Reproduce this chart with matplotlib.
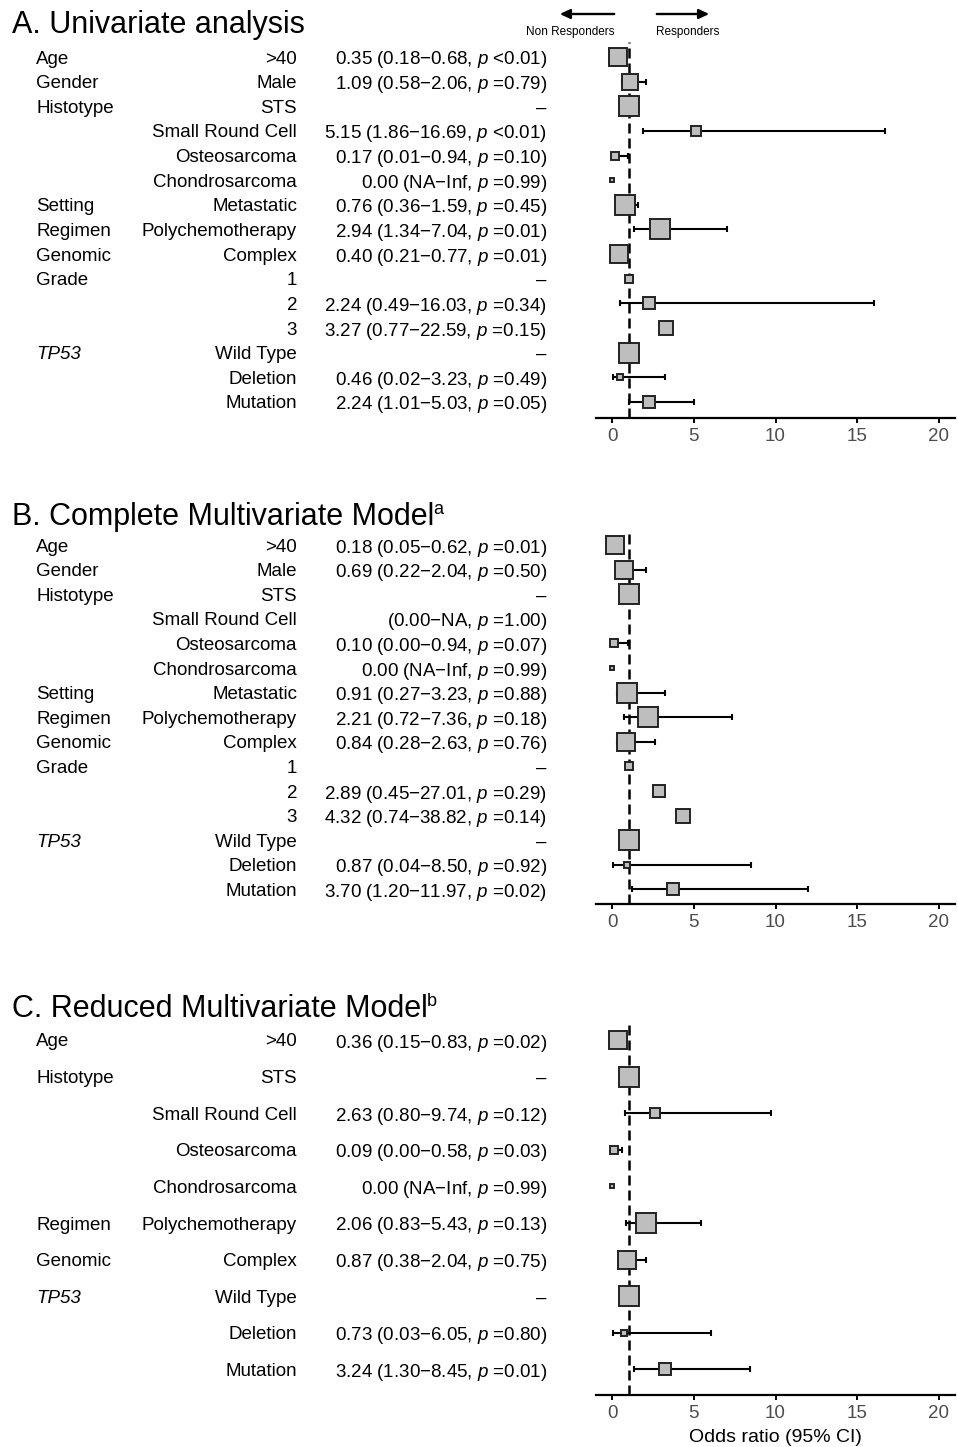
import numpy as np
import matplotlib
matplotlib.use("Agg")
import matplotlib.pyplot as plt
from matplotlib.transforms import blended_transform_factory

plt.rcParams['font.family'] = ['Liberation Sans', 'DejaVu Sans']
plt.rcParams['mathtext.fontset'] = 'custom'
plt.rcParams['mathtext.rm'] = 'Liberation Sans'
plt.rcParams['mathtext.it'] = 'Liberation Sans:italic'
plt.rcParams['mathtext.bf'] = 'Liberation Sans:bold'

NA = np.nan
INF = np.inf

# ---------------- Panel A : Univariate ----------------
a_vars = ["Age", "Gender", "Histotype", "", "", "", "Setting", "Regimen", "Genomic",
          "Grade", "", "", "TP53", "", ""]
a_levels = [">40", "Male", "STS", "Small Round Cell", "Osteosarcoma", "Chondrosarcoma",
            "Metastatic", "Polychemotherapy", "Complex", "1", "2", "3",
            "Wild Type", "Deletion", "Mutation"]
a_text = ["0.35 (0.18\u22120.68, $p$ <0.01)", "1.09 (0.58\u22122.06, $p$ =0.79)", "\u2013",
          "5.15 (1.86\u221216.69, $p$ <0.01)", "0.17 (0.01\u22120.94, $p$ =0.10)",
          "0.00 (NA\u2212Inf, $p$ =0.99)", "0.76 (0.36\u22121.59, $p$ =0.45)",
          "2.94 (1.34\u22127.04, $p$ =0.01)", "0.40 (0.21\u22120.77, $p$ =0.01)", "\u2013",
          "2.24 (0.49\u221216.03, $p$ =0.34)", "3.27 (0.77\u221222.59, $p$ =0.15)", "\u2013",
          "0.46 (0.02\u22123.23, $p$ =0.49)", "2.24 (1.01\u22125.03, $p$ =0.05)"]
a_or = [0.35, 1.09, 1.00, 5.15, 0.17, 0.00, 0.76, 2.94, 0.40, 1.00, 2.24, 3.27, 1.00, 0.46, 2.24]
a_lo = [0.18, 0.58, NA, 1.86, 0.01, NA, 0.36, 1.34, 0.21, NA, 0.49, 0.77, NA, 0.02, 1.01]
a_hi = [0.68, 2.06, NA, 16.69, 0.94, INF, 1.59, 7.04, 0.77, NA, 16.03, 22.59, NA, 3.23, 5.03]
a_weight = [18, 17, 21, 11, 8, 5, 20, 21, 19, 9, 13, 15, 21, 7, 12]

# ---------------- Panel B : Complete multivariate ----------------
b_vars = a_vars
b_levels = a_levels
b_text = ["0.18 (0.05\u22120.62, $p$ =0.01)", "0.69 (0.22\u22122.04, $p$ =0.50)", "\u2013",
          "(0.00\u2212NA, $p$ =1.00)", "0.10 (0.00\u22120.94, $p$ =0.07)",
          "0.00 (NA\u2212Inf, $p$ =0.99)", "0.91 (0.27\u22123.23, $p$ =0.88)",
          "2.21 (0.72\u22127.36, $p$ =0.18)", "0.84 (0.28\u22122.63, $p$ =0.76)", "\u2013",
          "2.89 (0.45\u221227.01, $p$ =0.29)", "4.32 (0.74\u221238.82, $p$ =0.14)", "\u2013",
          "0.87 (0.04\u22128.50, $p$ =0.92)", "3.70 (1.20\u221211.97, $p$ =0.02)"]
b_or = [0.18, 0.69, 1.00, NA, 0.10, 0.00, 0.91, 2.21, 0.84, 1.00, 2.89, 4.32, 1.00, 0.87, 3.70]
b_lo = [0.05, 0.22, NA, 0.00, 0.00, NA, 0.27, 0.72, 0.28, NA, 0.45, 0.74, NA, 0.04, 1.20]
b_hi = [0.62, 2.04, NA, NA, 0.94, INF, 3.23, 7.36, 2.63, NA, 27.01, 38.82, NA, 8.50, 11.97]
b_weight = [18, 18, 21, 0, 8, 5, 21, 20, 19, 9, 13, 15, 21, 6, 12]

# ---------------- Panel C : Reduced multivariate ----------------
c_vars = ["Age", "Histotype", "", "", "", "Regimen", "Genomic", "TP53", "", ""]
c_levels = [">40", "STS", "Small Round Cell", "Osteosarcoma", "Chondrosarcoma",
            "Polychemotherapy", "Complex", "Wild Type", "Deletion", "Mutation"]
c_text = ["0.36 (0.15\u22120.83, $p$ =0.02)", "\u2013", "2.63 (0.80\u22129.74, $p$ =0.12)",
          "0.09 (0.00\u22120.58, $p$ =0.03)", "0.00 (NA\u2212Inf, $p$ =0.99)",
          "2.06 (0.83\u22125.43, $p$ =0.13)", "0.87 (0.38\u22122.04, $p$ =0.75)", "\u2013",
          "0.73 (0.03\u22126.05, $p$ =0.80)", "3.24 (1.30\u22128.45, $p$ =0.01)"]
c_or = [0.36, 1.00, 2.63, 0.09, 0.00, 2.06, 0.87, 1.00, 0.73, 3.24]
c_lo = [0.15, NA, 0.80, 0.00, NA, 0.83, 0.38, NA, 0.03, 1.30]
c_hi = [0.83, NA, 9.74, 0.58, INF, 5.43, 2.04, NA, 6.05, 8.45]
c_weight = [18, 21, 11, 8, 5, 20, 19, 21, 7, 12]

xticks = [0, 5, 10, 15, 20]
XMIN, XMAX = -1.0, 21.0

W, H = 958, 1447
fig = plt.figure(figsize=(W / 100, H / 100), dpi=100)

FILL = '#BEBEBE'
EDGE = '#222222'
FS = 13.5


def fx(px):
    return px / W


def fy(py):
    return 1 - py / H


def panel(title, sup, title_base, top_px, spine_px, row0_px, step_px,
          vars_, levels, texts, ors, los, his, weights, xlabel=None):
    n = len(levels)
    ax_left, ax_right = 596, 955
    ax = fig.add_axes([fx(ax_left), fy(spine_px), fx(ax_right - ax_left),
                       (spine_px - top_px) / H])
    ax.set_xlim(XMIN, XMAX)
    ax.set_ylim((spine_px - row0_px) / step_px, -(row0_px - top_px) / step_px)
    for s in ['left', 'right', 'top']:
        ax.spines[s].set_visible(False)
    ax.spines['bottom'].set_linewidth(1.6)
    ax.set_yticks([])
    ax.set_xticks(xticks)
    ax.tick_params(axis='x', length=3.5, width=1.4, pad=3.5, labelsize=FS,
                   labelcolor='#4D4D4D', color='black')
    ax.patch.set_alpha(0)
    ax.axvline(1, color='black', lw=1.8, ls=(0, (4, 2)), zorder=1)
    ys = np.arange(n)
    for i in range(n):
        lo, hi, o = los[i], his[i], ors[i]
        if np.isfinite(lo) and np.isfinite(hi) and hi <= XMAX:
            ax.plot([lo, hi], [ys[i], ys[i]], color='black', lw=1.5, zorder=2,
                    solid_capstyle='butt')
            ax.plot([lo, hi], [ys[i], ys[i]], ls='none', marker='|', ms=5,
                    mew=1.5, color='black', zorder=2)
        if np.isfinite(o) and weights[i] > 0:
            ax.plot([o], [ys[i]], marker='s', ms=weights[i] / 1.389 - 0.4,
                    mfc=FILL, mec=EDGE, mew=1.4, zorder=3, ls='none')
    tr = blended_transform_factory(fig.transFigure, ax.transData)
    for i in range(n):
        if vars_[i]:
            ax.text(fx(36), ys[i], vars_[i], transform=tr, ha='left',
                    va='center_baseline',
                    fontsize=FS, style='italic' if vars_[i] == 'TP53' else 'normal',
                    clip_on=False)
        ax.text(fx(297), ys[i], levels[i], transform=tr, ha='right',
                va='center_baseline', fontsize=FS, clip_on=False)
        ax.text(fx(547), ys[i], texts[i], transform=tr, ha='right',
                va='center_baseline', fontsize=FS, clip_on=False)
    t = fig.text(fx(12), fy(title_base), title, fontsize=22, ha='left',
                 va='baseline')
    if sup:
        fig.canvas.draw()
        bb = t.get_window_extent()
        fig.text((bb.x1 - 1) / W, fy(title_base - 11), sup, fontsize=13,
                 ha='left', va='baseline')
    if xlabel:
        ax.set_xlabel(xlabel, fontsize=FS + 0.5, labelpad=5)
    return ax


panel("A. Univariate analysis", None, 33, 42, 418, 57, 24.64,
      a_vars, a_levels, a_text, a_or, a_lo, a_hi, a_weight)
panel("B. Complete Multivariate Model", "a", 525, 530, 904, 545, 24.6,
      b_vars, b_levels, b_text, b_or, b_lo, b_hi, b_weight)
panel("C. Reduced Multivariate Model", "b", 1017, 1022, 1395, 1040, 36.6,
      c_vars, c_levels, c_text, c_or, c_lo, c_hi, c_weight,
      xlabel="Odds ratio (95% CI)")

# direction arrows
fig.add_artist(matplotlib.patches.FancyArrowPatch(
    (fx(617), fy(14)), (fx(557), fy(14)), transform=fig.transFigure,
    arrowstyle='-|>,head_length=6,head_width=2.8', lw=1.7, color='black'))
fig.add_artist(matplotlib.patches.FancyArrowPatch(
    (fx(654), fy(14)), (fx(712), fy(14)), transform=fig.transFigure,
    arrowstyle='-|>,head_length=6,head_width=2.8', lw=1.7, color='black'))
fig.text(fx(570), fy(32), "Non Responders", fontsize=8.5, ha='center', va='center')
fig.text(fx(688), fy(32), "Responders", fontsize=8.5, ha='center', va='center')

fig.savefig("out.png", dpi=100)
